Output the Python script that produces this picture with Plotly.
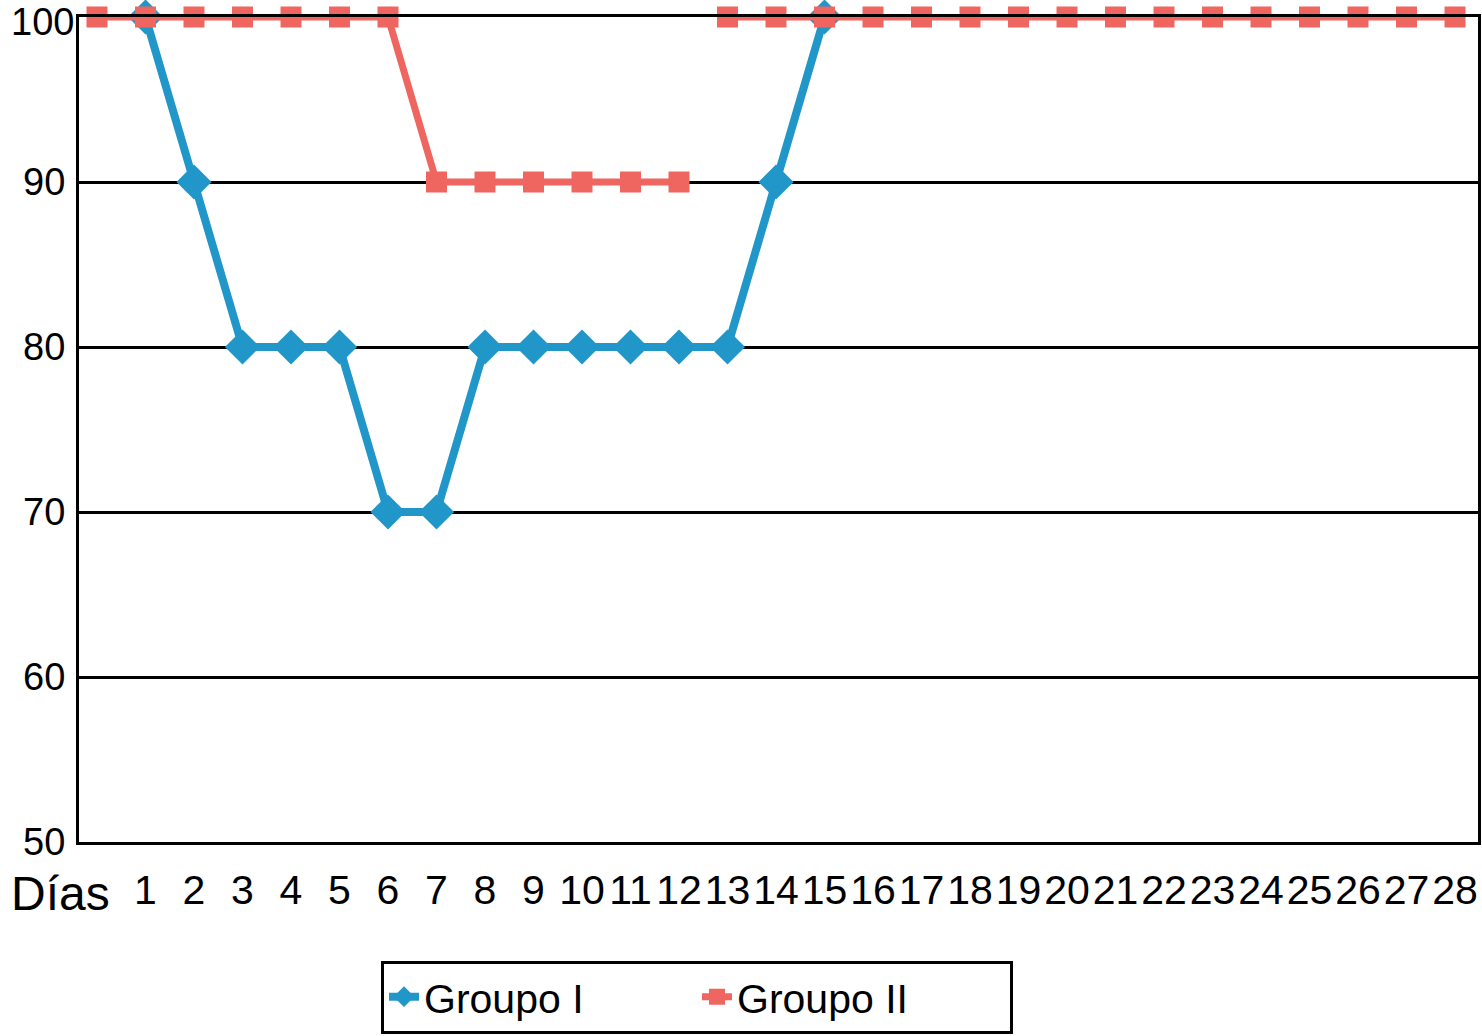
import plotly.graph_objects as go

# Data
day_labels = [""] + [str(d) for d in range(1, 29)]
group1_values = [None, 100, 90, 80, 80, 80, 70, 70, 80, 80, 80, 80, 80, 80, 90, 100,
                 None, None, None, None, None, None, None, None, None, None, None, None, None]
group2_values = [100, 100, 100, 100, 100, 100, 100, 90, 90, 90, 90, 90, 90,
                 100, 100, 100, 100, 100, 100, 100, 100, 100, 100, 100, 100, 100, 100, 100, 100]
group2_break_before = [13]  # no connecting line before this index
y_ticks = [50, 60, 70, 80, 90, 100]
y_tick_labels = ["50", "60", "70", "80", "90", ""]  # top label drawn separately, nudged down
top_label = "100"

BLUE = "#2196C9"
RED = "#EF6660"
FONT = "Liberation Sans, Arial, Helvetica, sans-serif"

L, R, T, B = 79, 4, 17, 194
W, H = 1482, 1036
PW, PH = W - L - R, H - T - B

idx = list(range(len(day_labels)))

# Build group II with a gap
g2x, g2y = [], []
for i, v in zip(idx, group2_values):
    if i in group2_break_before:
        g2x.append(None)
        g2y.append(None)
    g2x.append(i)
    g2y.append(v)

fig = go.Figure()
fig.add_trace(go.Scatter(
    x=idx, y=group1_values, name="Groupo I", mode="lines+markers",
    line=dict(color=BLUE, width=8), connectgaps=False,
    marker=dict(symbol="diamond", size=27, color=BLUE),
    cliponaxis=False,
))
fig.add_trace(go.Scatter(
    x=g2x, y=g2y, name="Groupo II", mode="lines+markers",
    line=dict(color=RED, width=7), connectgaps=False,
    marker=dict(symbol="square", size=21, color=RED),
    cliponaxis=False,
))

fig.update_layout(
    width=W, height=H,
    margin=dict(l=L, r=R, t=T, b=B, autoexpand=False),
    paper_bgcolor="white", plot_bgcolor="white",
    font=dict(family=FONT, color="black"),
    showlegend=True,
    legend=dict(
        orientation="h", x=(381 - L) / PW, xanchor="left",
        y=-(997 - (H - B)) / PH, yanchor="middle",
        bordercolor="black", borderwidth=3, font=dict(size=41, family=FONT),
        traceorder="normal", entrywidth=268,
    ),
    xaxis=dict(
        range=[-0.371, 28.474], automargin=False,
        tickmode="array", tickvals=idx, ticktext=day_labels,
        showgrid=False, zeroline=False,
        showline=True, linecolor="black", linewidth=3, mirror=True,
        tickfont=dict(size=41, family=FONT),
        ticks="", ticklabelstandoff=10, ticklabeloverflow="allow",
    ),
    yaxis=dict(
        range=[50, 100], automargin=False,
        tickmode="array", tickvals=y_ticks, ticktext=y_tick_labels,
        showgrid=True, gridcolor="black", gridwidth=3,
        zeroline=False,
        showline=True, linecolor="black", linewidth=3, mirror=True,
        tickfont=dict(size=38, family=FONT),
        ticks="", ticklabelstandoff=3, ticklabeloverflow="allow",
    ),
)

fig.add_annotation(
    text=top_label, xref="paper", yref="y", x=0, y=y_ticks[-1],
    xanchor="right", yanchor="middle", xshift=-3, yshift=-5,
    showarrow=False, font=dict(size=38, family=FONT, color="black"),
)

fig.add_annotation(
    text="Días", xref="paper", yref="paper",
    x=(60 - L) / PW, y=-(893 - (H - B)) / PH,
    xanchor="center", yanchor="middle", showarrow=False,
    font=dict(size=48, family=FONT, color="black"),
)

fig.write_html(
    "out.html",
    config={"displayModeBar": False},
    post_script="document.body.style.margin='0';document.body.style.overflow='hidden';",
)
